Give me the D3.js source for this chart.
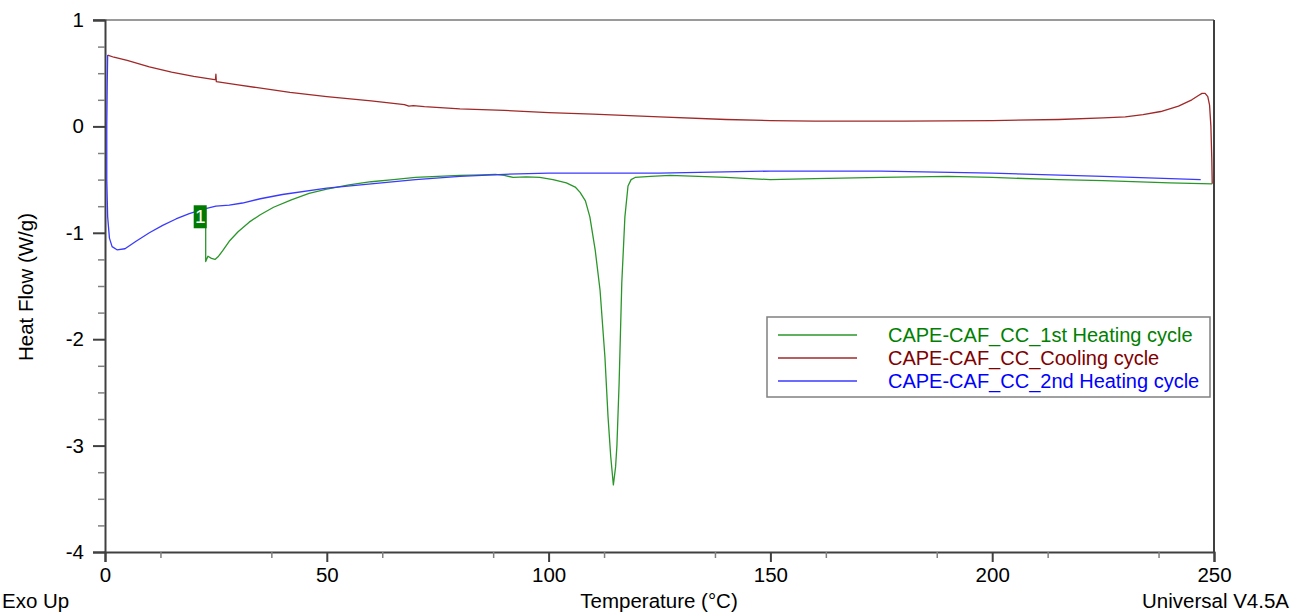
<!DOCTYPE html>
<html>
<head>
<meta charset="utf-8">
<script src="https://cdn.jsdelivr.net/npm/d3@7"></script>
<style>
  body { margin: 0; background: #fff; }
  text { font-family: Arial, "Liberation Sans", sans-serif; }
</style>
</head>
<body>
<div id="chart"></div>
<script>
// DSC thermogram, heat flow vs temperature

// series data (temperature °C, heat flow W/g)
const heat1_T = [22.7, 22.7, 23.2, 24.0, 24.8, 25.6, 26.5, 28, 30, 32.5, 35, 38, 42, 46, 50, 55, 60, 65, 70, 75, 80, 85, 88, 90, 92, 95, 98, 101, 104, 106, 107.1, 108.3, 109.3, 110.5, 111.6, 112.7, 113.4, 114.0, 114.6, 115.1, 115.4, 115.9, 116.5, 117.2, 117.9, 118.6, 119.5, 123, 127.4, 140, 150, 160, 175, 190, 200, 215, 225, 240, 249.6];
const heat1_V = [-0.76, -1.27, -1.22, -1.24, -1.25, -1.22, -1.17, -1.08, -0.99, -0.9, -0.83, -0.76, -0.69, -0.63, -0.59, -0.55, -0.52, -0.5, -0.48, -0.47, -0.46, -0.455, -0.45, -0.46, -0.48, -0.475, -0.48, -0.5, -0.53, -0.57, -0.62, -0.7, -0.85, -1.16, -1.54, -2.17, -2.73, -3.1, -3.37, -3.2, -3.0, -2.41, -1.47, -0.85, -0.56, -0.5, -0.48, -0.47, -0.46, -0.48, -0.5, -0.49, -0.48, -0.47, -0.48, -0.5, -0.51, -0.53, -0.54];

const cool_T = [249.6, 249.5, 249.3, 249.0, 248.6, 248.0, 247.3, 246.5, 245, 242, 238, 234, 230, 225, 215, 200, 180, 160, 150, 140, 125, 110, 100, 90, 80, 72, 69.5, 68.5, 67.5, 60, 50, 41.7, 30, 25.1, 25.0, 24.9, 24.7, 20, 15, 10, 5, 2, 0.6];
const cool_V = [-0.54, -0.3, 0.0, 0.2, 0.28, 0.31, 0.31, 0.29, 0.25, 0.19, 0.14, 0.11, 0.09, 0.08, 0.065, 0.055, 0.05, 0.05, 0.055, 0.065, 0.09, 0.115, 0.13, 0.15, 0.165, 0.185, 0.195, 0.19, 0.205, 0.24, 0.28, 0.32, 0.39, 0.42, 0.49, 0.44, 0.44, 0.47, 0.51, 0.56, 0.62, 0.65, 0.67];

const heat2_T = [0.6, 0.5, 0.4, 0.4, 0.6, 1.0, 1.6, 2.7, 4.5, 7, 10, 13, 16, 19, 22, 25, 28, 31, 35, 40, 50, 60, 70, 80, 90, 100, 125, 150, 175, 200, 225, 247];
const heat2_V = [0.67, 0.4, 0.0, -0.5, -0.85, -1.05, -1.13, -1.16, -1.15, -1.08, -1.0, -0.93, -0.87, -0.82, -0.78, -0.75, -0.74, -0.72, -0.68, -0.64, -0.58, -0.54, -0.5, -0.47, -0.45, -0.44, -0.44, -0.42, -0.42, -0.44, -0.47, -0.5];

const seriesNames = ["CAPE-CAF_CC_1st Heating cycle", "CAPE-CAF_CC_Cooling cycle", "CAPE-CAF_CC_2nd Heating cycle"];
const lineColors = ["#2a962a", "#a02828", "#3a3aff"];
const textColors = ["#008000", "#800000", "#0000ff"];

const xTicks = [0, 50, 100, 150, 200, 250];
const yTicks = [1, 0, -1, -2, -3, -4];

// layout
const W = 1297, H = 614;
const plot = {left: 105, right: 1214, top: 20, bottom: 552};
const fs = 20.5;

const svg = d3.select("#chart").append("svg")
    .attr("width", W)
    .attr("height", H);

const x = d3.scaleLinear().domain([0, 250]).range([plot.left, plot.right]);
const y = d3.scaleLinear().domain([-4, 1]).range([plot.bottom, plot.top]);

// frame: top + right
svg.append("line")
    .attr("x1", plot.left - 12).attr("x2", plot.right)
    .attr("y1", plot.top).attr("y2", plot.top)
    .attr("stroke", "#9a9a9a").attr("stroke-width", 2);
svg.append("line")
    .attr("x1", plot.right).attr("x2", plot.right)
    .attr("y1", plot.top).attr("y2", plot.bottom)
    .attr("stroke", "#404040").attr("stroke-width", 2);

// Y axis
const yAxis = svg.append("g")
    .attr("transform", `translate(${plot.left},0)`)
    .call(d3.axisLeft(y).tickValues(yTicks).tickSize(12).tickPadding(9).tickFormat(d => String(d)));
yAxis.select(".domain").attr("stroke", "#404040").attr("stroke-width", 2);
yAxis.selectAll(".tick line").attr("stroke", "#404040").attr("stroke-width", 2);
yAxis.selectAll("text").attr("font-size", fs).attr("fill", "#000");

svg.append("g")
    .attr("transform", `translate(${plot.left},0)`)
    .call(d3.axisLeft(y).tickValues(d3.range(-4, 1.01, 0.25).filter(v => Math.abs(v - Math.round(v)) > 0.01)).tickSize(7).tickFormat(""))
    .call(g => g.select(".domain").remove())
    .selectAll(".tick line").attr("stroke", "#808080").attr("stroke-width", 1.5);

// X axis
const xAxis = svg.append("g")
    .attr("transform", `translate(0,${plot.bottom})`)
    .call(d3.axisBottom(x).tickValues(xTicks).tickSize(10).tickPadding(5));
xAxis.select(".domain").attr("stroke", "#404040").attr("stroke-width", 2);
xAxis.selectAll(".tick line").attr("stroke", "#404040").attr("stroke-width", 2);
xAxis.selectAll("text").attr("font-size", fs).attr("fill", "#000");

svg.append("g")
    .attr("transform", `translate(0,${plot.bottom})`)
    .call(d3.axisBottom(x).tickValues(d3.range(12.5, 250, 25)).tickSize(6).tickFormat(""))
    .call(g => g.select(".domain").remove())
    .selectAll(".tick line").attr("stroke", "#808080").attr("stroke-width", 1.5);

// lines
const line = d3.line().x(d => x(d[0])).y(d => y(d[1]));
const series = [
    d3.zip(heat1_T, heat1_V),
    d3.zip(cool_T, cool_V),
    d3.zip(heat2_T, heat2_V)
];
series.forEach((s, i) => {
    svg.append("path")
        .datum(s)
        .attr("d", line)
        .attr("fill", "none")
        .attr("stroke", lineColors[i])
        .attr("stroke-width", 1.3)
        .attr("stroke-linejoin", "round");
});

// event marker "1" at the start of the 1st heating cycle
const mx = x(heat1_T[0]), my = y(heat1_V[0]);
svg.append("rect")
    .attr("x", mx - 12).attr("y", my - 2)
    .attr("width", 13).attr("height", 23)
    .attr("fill", "#007a00");
svg.append("text")
    .attr("x", mx - 5.5).attr("y", my + 16)
    .attr("text-anchor", "middle")
    .attr("font-size", 19)
    .attr("fill", "#fff")
    .text("1");

// legend
const lg = svg.append("g").attr("transform", "translate(767,317)");
lg.append("rect")
    .attr("width", 443).attr("height", 80)
    .attr("fill", "#fff")
    .attr("stroke", "#808080").attr("stroke-width", 1.5);
seriesNames.forEach((name, i) => {
    const ly = 18 + i * 23;
    lg.append("line")
        .attr("x1", 11).attr("x2", 90)
        .attr("y1", ly).attr("y2", ly)
        .attr("stroke", lineColors[i]).attr("stroke-width", 1.5);
    lg.append("text")
        .attr("x", 121).attr("y", ly + 7)
        .attr("font-size", 20)
        .attr("fill", textColors[i])
        .text(name);
});

// labels
svg.append("text")
    .attr("transform", "rotate(-90)")
    .attr("x", -287).attr("y", 33)
    .attr("text-anchor", "middle")
    .attr("font-size", fs)
    .text("Heat Flow (W/g)");

svg.append("text")
    .attr("x", 2).attr("y", 608)
    .attr("font-size", fs)
    .text("Exo Up");

svg.append("text")
    .attr("x", 659).attr("y", 608)
    .attr("text-anchor", "middle")
    .attr("font-size", fs)
    .text("Temperature (°C)");

svg.append("text")
    .attr("x", 1289).attr("y", 608)
    .attr("text-anchor", "end")
    .attr("font-size", fs)
    .text("Universal V4.5A");
</script>
</body>
</html>
